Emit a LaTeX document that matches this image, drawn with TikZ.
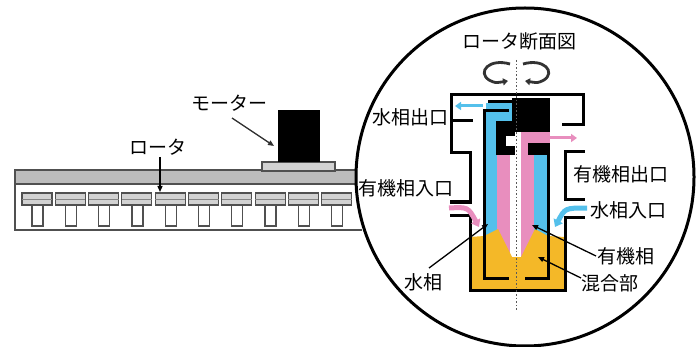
\documentclass[tikz,border=0pt]{standalone}
\usepackage{fontspec}
\newfontfamily\jp{Noto Sans CJK JP}
\usetikzlibrary{arrows.meta}
\definecolor{waterblue}{RGB}{84,192,235}
\definecolor{orgpink}{RGB}{232,142,190}
\definecolor{mixyellow}{RGB}{244,184,40}
\definecolor{traygray}{RGB}{188,188,188}
\definecolor{plategray}{RGB}{210,210,210}
\definecolor{edgegray}{RGB}{80,80,80}

\begin{document}
\begin{tikzpicture}[x=1pt,y=-1pt,
  lbl/.style={font=\jp\fontsize{19}{21}\selectfont, inner sep=0pt},
  wall/.style={line width=3pt, line join=miter, line cap=rect},
  edge/.style={edgegray, line width=1.1pt},
  leader/.style={line width=1.3pt, -{Triangle[length=6pt,width=5pt]}},
  flowarrow/.style={line width=3pt, -{Triangle[length=6pt,width=8pt]}},
  inlet/.style={line width=5pt, -{Triangle[length=7pt,width=10pt]}},
  spin/.style={black!80, line width=2.8pt, -{Triangle[length=5pt,width=7pt]}}
]
\useasboundingbox (0,0) rectangle (700,347);

% ---------- extraction unit (side view) ----------
\fill[traygray] (15,170) rectangle (362,184);
\draw[edge] (362,170) -- (15,170) -- (15,230) -- (362,230);
\draw[edge] (15,184) -- (362,184);
\foreach \k in {0,...,9} {
  \pgfmathsetmacro\px{22+33.3*\k}
  \draw[edge, fill=plategray] (\px,193) rectangle ++(30,12);
  \draw[edgegray!70, line width=0.8pt] (\px,199) -- ++(30,0);
  \draw[edge, line width=1.3pt] (\px+10,205) -- (\px+10,226) -- (\px+21,226) -- (\px+21,205);
}
% motor on its base
\draw[edge, fill=plategray] (262,162) rectangle (335,171);
\fill[black] (278,110) rectangle (320,162);
\coordinate (motorTip) at (274,146);
\coordinate (rotorTip) at (160,192);

% ---------- magnified cross-section ----------
\fill[white] (525,177) circle (169);

% water phase (blue)
\fill[waterblue] (486,103) rectangle (512,121);
\fill[waterblue] (486,112) rectangle (497,245);
\fill[waterblue] (534,155) rectangle (548,245);
% organic phase (pink)
\fill[orgpink] (497,150) rectangle (510,262);
\fill[orgpink] (521,132) rectangle (528,155);
\fill[orgpink] (521,150) rectangle (534,262);
\fill[orgpink] (521,132) rectangle (550,143);
% mixing zone (yellow)
\fill[mixyellow] (470,237) -- (484,236) -- (498,229) -- (512,257) -- (521,257)
  -- (535,229) -- (548,236) -- (565,237) -- (565,290) -- (470,290) -- cycle;

% rotor weir blocks
\fill[black] (512,98) rectangle (550,132);
\fill[black] (496,121) rectangle (515,155);
\fill[white] (506,136) rectangle (515,146);
\fill[black] (528,143) rectangle (550,155);

% rotor walls
\draw[wall] (507,111) -- (484,111) -- (484,278) -- (507,278);
\draw[wall] (548,155) -- (548,278) -- (526,278);
\draw[wall] (489,102) -- (512,102);

% housing
\draw[wall] (470,290) -- (470,215) -- (451,215);
\draw[wall] (451,202) -- (470,202) -- (470,153) -- (451,153) -- (451,95)
  -- (583,95) -- (583,125) -- (563,125);
\draw[wall] (451,121) -- (471,121);
\draw[wall] (583,152) -- (565,152) -- (565,200) -- (583,200);
\draw[wall] (583,217) -- (565,217) -- (565,290) -- (470,290);

% flow arrows
\coordinate (wOutA) at (483,106);
\coordinate (wOutB) at (455,106);
\coordinate (oOutA) at (548,138);
\coordinate (oOutB) at (577,138);
\coordinate (oInA) at (449,208);
\coordinate (oInB) at (479,227);
\coordinate (wInA) at (587,208);
\coordinate (wInB) at (555,227);
\draw[waterblue, flowarrow] (wOutA) -- (wOutB);
\draw[orgpink, flowarrow] (oOutA) -- (oOutB);
\draw[orgpink, inlet] (oInA) .. controls (468,207) .. (oInB);
\draw[waterblue, inlet] (wInA) .. controls (565,208) .. (wInB);

% rotation axis
\draw[black!65, line width=0.9pt, dash pattern=on 1.6pt off 2pt] (516,60) -- (516,310);

% rotation symbol
\coordinate (spinLA) at (510,64);
\coordinate (spinLB) at (508,81);
\coordinate (spinRA) at (523,64);
\coordinate (spinRB) at (525,81);
\draw[spin] (spinLA) .. controls (489,58) and (477,72) .. (489,80) .. controls (495,83) .. (spinLB);
\draw[spin] (spinRA) .. controls (544,58) and (556,72) .. (544,80) .. controls (538,83) .. (spinRB);

% outline of the magnifier
\draw[line width=3pt] (525,177) circle (169);

% ---------- labels ----------
\node[lbl] (motor) at (229,103) {モーター};
\node[lbl] (rotor) at (158,147) {ロータ};
\node[lbl] (title) at (519,41) {ロータ断面図};
\node[lbl] (wOut) at (410,117) {水相出口};
\node[lbl] (oIn) at (406,188) {有機相入口};
\node[lbl] (oOut) at (621,174) {有機相出口};
\node[lbl] (wIn) at (628,210) {水相入口};
\node[lbl] (org) at (626,256) {有機相};
\node[lbl] (water) at (423,282) {水相};
\node[lbl] (mix) at (610,283) {混合部};

\coordinate (motorTail) at (232,118);
\coordinate (rotorTail) at (160,157);
\coordinate (waterTail) at (429,268);
\coordinate (waterTip) at (488,224);
\coordinate (orgTail) at (596,256);
\coordinate (orgTip) at (532,225);
\coordinate (mixTail) at (581,278);
\coordinate (mixTip) at (538,257);
\draw[leader, edgegray!60!black] (motorTail) -- (motorTip);
\draw[leader] (rotorTail) -- (rotorTip);
\draw[leader] (waterTail) -- (waterTip);
\draw[leader] (orgTail) -- (orgTip);
\draw[leader] (mixTail) -- (mixTip);
\end{tikzpicture}
\end{document}
